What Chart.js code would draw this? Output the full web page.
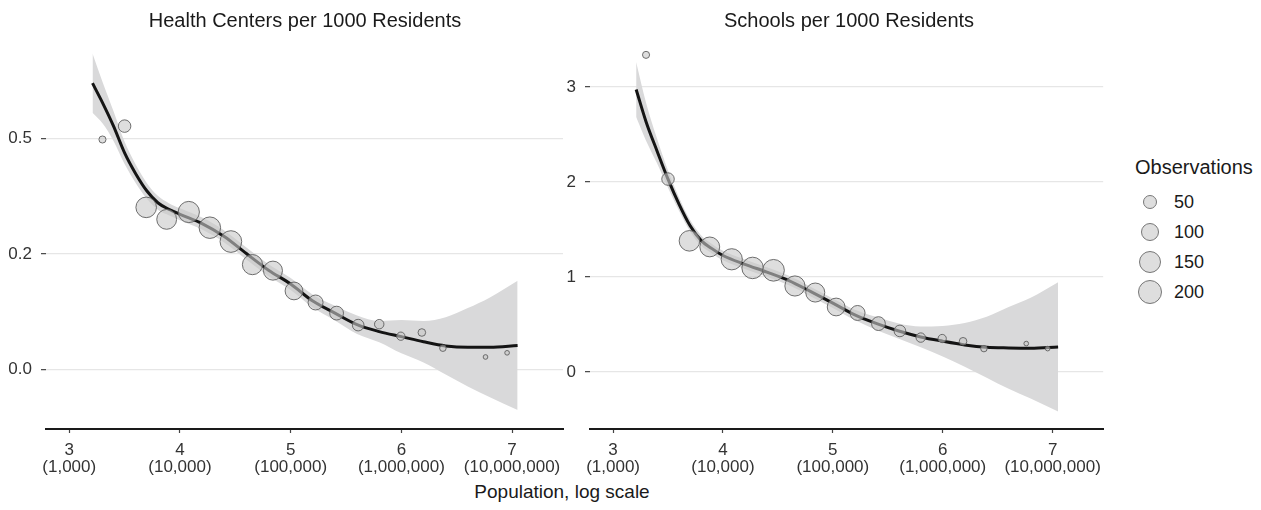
<!DOCTYPE html>
<html>
<head>
<meta charset="utf-8">
<script src="https://cdn.jsdelivr.net/npm/chart.js@4.4.1/dist/chart.umd.min.js"></script>
<style>
  html, body { margin: 0; padding: 0; background: #fff; }
  body {
    width: 1261px; height: 510px; position: relative; overflow: hidden;
    font-family: "Liberation Sans", Arial, Helvetica, sans-serif; color: #1a1a1a;
  }
  canvas { position: absolute; top: 0; }
  #leftChart { left: 0; }
  #rightChart { left: 555px; }
  .title { position: absolute; top: 8px; font-size: 20px; line-height: 24px; text-align: center; white-space: nowrap; }
  #axisTitle { position: absolute; top: 481px; left: 362px; width: 400px; text-align: center; font-size: 19px; line-height: 22px; }
  #legend { position: absolute; left: 1135px; top: 155px; }
  #legend .head { font-size: 20px; line-height: 24px; white-space: nowrap; }
  .key { position: absolute; left: 0; height: 30px; width: 120px; }
  .key .dot { position: absolute; border: 1px solid #777; border-radius: 50%; background: rgba(200,200,200,0.6); box-sizing: border-box; }
  .key .lab { position: absolute; left: 39px; font-size: 18px; line-height: 20px; color: #1a1a1a; }
</style>
</head>
<body>
<canvas id="leftChart" width="575" height="480"></canvas>
<canvas id="rightChart" width="560" height="480"></canvas>
<div class="title" id="titleLeft" style="left:105px;width:400px;">Health Centers per 1000 Residents</div>
<div class="title" id="titleRight" style="left:649px;width:400px;">Schools per 1000 Residents</div>
<div id="axisTitle">Population, log scale</div>
<div id="legend"><div class="head">Observations</div></div>

<script>
// population bins (log10) and observations per bin
const binX = [3.30, 3.50, 3.695, 3.88, 4.08, 4.27, 4.46, 4.655, 4.84, 5.03, 5.225, 5.415, 5.61, 5.80, 5.995, 6.185, 6.375, 6.76, 6.955]
const observations = [7, 40, 140, 128, 150, 155, 158, 133, 116, 98, 64, 52, 33, 18, 12, 9, 5, 1, 1]

// mean per bin
const healthRate = [0.498, 0.527, 0.351, 0.325, 0.341, 0.307, 0.277, 0.227, 0.214, 0.170, 0.145, 0.122, 0.096, 0.098, 0.072, 0.080, 0.046, 0.027, 0.036]
const schoolRate = [3.337, 2.03, 1.38, 1.316, 1.186, 1.095, 1.07, 0.905, 0.836, 0.684, 0.621, 0.509, 0.432, 0.362, 0.352, 0.323, 0.246, 0.299, 0.246]

// smoothed fit and half-width of the band
const fitX = [3.21, 3.3, 3.4, 3.5, 3.6, 3.7, 3.8, 3.9, 4.0, 4.2, 4.4, 4.6, 4.8, 5.0, 5.2, 5.4, 5.6, 5.8, 6.0, 6.2, 6.4, 6.6, 6.8, 7.05]
const healthFit = [0.620, 0.578, 0.527, 0.469, 0.424, 0.387, 0.361, 0.347, 0.336, 0.316, 0.288, 0.251, 0.215, 0.185, 0.148, 0.122, 0.097, 0.082, 0.071, 0.060, 0.051, 0.048, 0.048, 0.052]
const healthSe = [0.064, 0.045, 0.032, 0.024, 0.020, 0.017, 0.015, 0.013, 0.013, 0.013, 0.013, 0.013, 0.013, 0.013, 0.014, 0.016, 0.020, 0.023, 0.036, 0.045, 0.062, 0.085, 0.108, 0.140]
const schoolFit = [2.973, 2.634, 2.326, 2.029, 1.766, 1.541, 1.385, 1.298, 1.226, 1.133, 1.051, 0.962, 0.845, 0.724, 0.601, 0.509, 0.431, 0.369, 0.324, 0.285, 0.260, 0.253, 0.250, 0.263]
const schoolSe = [0.29, 0.20, 0.13, 0.09, 0.07, 0.06, 0.055, 0.05, 0.05, 0.05, 0.05, 0.05, 0.05, 0.05, 0.055, 0.07, 0.08, 0.11, 0.16, 0.23, 0.32, 0.43, 0.53, 0.68]

// ticks
const xTickValues = [3, 4, 5, 6, 7]
const xTickLabels = [["3", "(1,000)"], ["4", "(10,000)"], ["5", "(100,000)"], ["6", "(1,000,000)"], ["7", "(10,000,000)"]]
const healthTicks = [0, 0.25, 0.5]
const healthTickLabels = ["0.0", "0.2", "0.5"]
const schoolTicks = [0, 1, 2, 3]
const schoolTickLabels = ["0", "1", "2", "3"]
const legendValues = [50, 100, 150, 200]

// bubble radius from number of observations
const bubbleRadius = (n) => 1.6 + 0.735 * Math.sqrt(n)

const fontFamily = "'Liberation Sans', Arial, Helvetica, sans-serif"

function panel(canvasId, rates, fit, se, yMin, yMax, yTicks, yLabels, yWidth, padRight) {
  const ctx = document.getElementById(canvasId).getContext("2d")
  return new Chart(ctx, {
    type: "bubble",
    data: {
      datasets: [
        {
          type: "bubble",
          data: binX.map((x, i) => ({ x: x, y: rates[i], r: bubbleRadius(observations[i]) })),
          backgroundColor: "rgba(200, 200, 200, 0.6)",
          borderColor: "rgba(95, 95, 95, 0.9)",
          borderWidth: 1,
        },
        {
          type: "line",
          data: fitX.map((x, i) => ({ x: x, y: fit[i] })),
          borderColor: "#141414",
          borderWidth: 3,
          pointRadius: 0,
          fill: false,
          cubicInterpolationMode: "monotone",
        },
        {
          type: "line",
          data: fitX.map((x, i) => ({ x: x, y: fit[i] - se[i] })),
          borderColor: "rgba(0,0,0,0)",
          pointRadius: 0,
          fill: false,
          cubicInterpolationMode: "monotone",
        },
        {
          type: "line",
          data: fitX.map((x, i) => ({ x: x, y: fit[i] + se[i] })),
          borderColor: "rgba(0,0,0,0)",
          backgroundColor: "#d9d9da",
          pointRadius: 0,
          fill: "-1",
          cubicInterpolationMode: "monotone",
        },
      ],
    },
    options: {
      responsive: false,
      animation: false,
      events: [],
      layout: { padding: { top: 37, right: padRight, left: 0, bottom: 0 } },
      plugins: { legend: { display: false }, tooltip: { enabled: false }, title: { display: false } },
      scales: {
        x: {
          type: "linear",
          min: 2.79,
          max: 7.46,
          afterBuildTicks: (s) => { s.ticks = xTickValues.map((v) => ({ value: v })) },
          afterFit: (s) => { s.height = 51 },
          ticks: {
            callback: (v, i) => xTickLabels[i],
            color: "#333",
            font: { size: 17, family: fontFamily, lineHeight: 1.0 },
            padding: 9,
            maxRotation: 0,
            autoSkip: false,
          },
          grid: { drawOnChartArea: false, drawTicks: true, tickLength: 4, tickColor: "#444", tickWidth: 1.2 },
          border: { display: true, color: "#1a1a1a", width: 2 },
        },
        y: {
          type: "linear",
          min: yMin,
          max: yMax,
          afterBuildTicks: (s) => { s.ticks = yTicks.map((v) => ({ value: v })) },
          afterFit: (s) => { s.width = yWidth },
          ticks: {
            callback: (v, i) => yLabels[i],
            color: "#333",
            font: { size: 17, family: fontFamily },
            padding: 9,
          },
          grid: { color: "#e6e6e6", lineWidth: 1.3, tickColor: "#444", tickLength: 5, tickWidth: 1.2 },
          border: { display: false },
        },
      },
    },
  })
}

panel("leftChart", healthRate, healthFit, healthSe, -0.129, 0.72, healthTicks, healthTickLabels, 46, 12)
panel("rightChart", schoolRate, schoolFit, schoolSe, -0.6, 3.525, schoolTicks, schoolTickLabels, 35, 8)

// size legend
const legend = document.getElementById("legend")
legendValues.forEach((v, i) => {
  const key = document.createElement("div")
  key.className = "key"
  key.style.top = (32 + i * 30) + "px"
  const d = 2 * (bubbleRadius(v) + 0.5)
  const dot = document.createElement("div")
  dot.className = "dot"
  dot.style.width = d + "px"
  dot.style.height = d + "px"
  dot.style.left = (15 - d / 2) + "px"
  dot.style.top = (15 - d / 2) + "px"
  const lab = document.createElement("div")
  lab.className = "lab"
  lab.style.top = "5px"
  lab.textContent = v
  key.appendChild(dot)
  key.appendChild(lab)
  legend.appendChild(key)
})
</script>
</body>
</html>
